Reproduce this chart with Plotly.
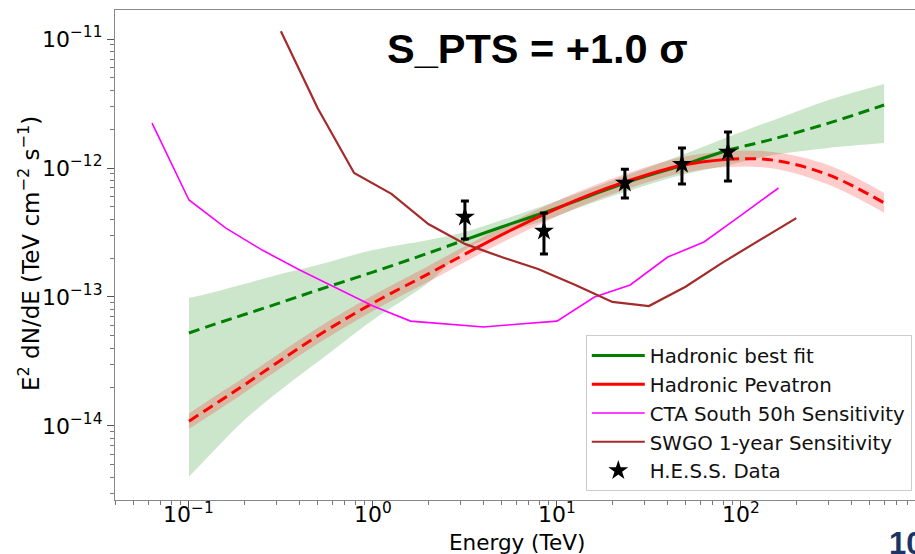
import math
import plotly.graph_objects as go

# ---------------- data ----------------
E_model = [0.1, 0.15, 0.2, 0.3, 0.5, 1.0, 2.0, 3.16, 5.0, 8.4, 15.0, 23.4, 47.7, 85.0, 150.0, 300.0, 600.0]

fit_center = [5.26e-14, 6.40e-14, 7.31e-14, 8.83e-14, 1.13e-13, 1.56e-13, 2.19e-13, 2.77e-13, 3.49e-13,
              4.48e-13, 6.07e-13, 7.65e-13, 1.05e-12, 1.38e-12, 1.68e-12, 2.23e-12, 3.08e-12]
fit_upper = [9.8e-14, 1.13e-13, 1.26e-13, 1.48e-13, 1.77e-13, 2.31e-13, 2.77e-13, 3.19e-13, 3.95e-13,
             5.07e-13, 6.87e-13, 8.67e-13, 1.26e-12, 1.74e-12, 2.35e-12, 3.37e-12, 4.48e-12]
fit_lower = [4.03e-15, 7.38e-15, 1.11e-14, 1.80e-14, 3.13e-14, 6.64e-14, 1.29e-13, 2.31e-13, 3.08e-13,
             3.88e-13, 5.26e-13, 6.52e-13, 8.83e-13, 1.05e-12, 1.26e-12, 1.43e-12, 1.56e-12]

pev_center = [1.09e-14, 1.59e-14, 2.08e-14, 3.08e-14, 4.99e-14, 8.97e-14, 1.51e-13, 2.15e-13, 3.03e-13,
              4.33e-13, 6.18e-13, 7.79e-13, 1.05e-12, 1.17e-12, 1.15e-12, 8.83e-13, 5.36e-13]
pev_upper = [1.25e-14, 1.83e-14, 2.39e-14, 3.54e-14, 5.74e-14, 1.03e-13, 1.74e-13, 2.47e-13, 3.48e-13,
             4.98e-13, 7.10e-13, 8.96e-13, 1.21e-12, 1.35e-12, 1.33e-12, 1.05e-12, 6.40e-13]
pev_lower = [9.5e-15, 1.38e-14, 1.81e-14, 2.68e-14, 4.34e-14, 7.8e-14, 1.31e-13, 1.87e-13, 2.63e-13,
             3.77e-13, 5.37e-13, 6.77e-13, 9.13e-13, 1.02e-12, 9.9e-13, 7.4e-13, 4.5e-13]

hess_E = [3.16, 8.5, 23.4, 47.8, 85.0]
hess_F = [4.17e-13, 3.25e-13, 7.65e-13, 1.07e-12, 1.33e-12]
hess_hi = [5.55e-13, 4.48e-13, 9.8e-13, 1.43e-12, 1.90e-12]
hess_lo = [2.82e-13, 2.15e-13, 5.85e-13, 7.52e-13, 7.93e-13]

cta_E = [0.063, 0.1, 0.158, 0.25, 0.4, 0.63, 1.0, 1.6, 2.5, 4.0, 6.3, 10.0, 16.0, 25.0, 40.0, 63.0, 100.0, 160.0]
cta_F = [2.23e-12, 5.65e-13, 3.43e-13, 2.31e-13, 1.62e-13, 1.17e-13, 8.5e-14, 6.5e-14, 6.18e-14, 5.85e-14,
         6.18e-14, 6.5e-14, 1.0e-13, 1.24e-13, 2.04e-13, 2.67e-13, 4.3e-13, 7.0e-13]

swgo_E = [0.316, 0.5, 0.79, 1.26, 2.0, 3.16, 5.0, 7.9, 12.6, 20.0, 31.6, 50.0, 79.0, 126.0, 200.0]
swgo_F = [1.15e-11, 2.92e-12, 9.15e-13, 6.3e-13, 3.68e-13, 2.58e-13, 2.04e-13, 1.65e-13, 1.24e-13,
          9.15e-14, 8.5e-14, 1.2e-13, 1.84e-13, 2.77e-13, 4.09e-13]

x_tickvals = [0.1, 1, 10, 100]
x_ticktext = ["10<sup>\u22121</sup>", "10<sup>0</sup>", "10<sup>1</sup>", "10<sup>2</sup>"]
y_tickvals = [1e-14, 1e-13, 1e-12, 1e-11]
y_ticktext = ["10<sup>\u221214</sup>", "10<sup>\u221213</sup>", "10<sup>\u221212</sup>", "10<sup>\u221211</sup>"]

title_text = "S_PTS = +1.0 \u03c3"

# ---------------- figure ----------------
FONT = "DejaVu Sans"
fig = go.Figure()

i_lo, i_hi = 7, 13  # solid part = data range

# bands
fig.add_trace(go.Scatter(x=E_model, y=fit_lower, mode="lines", line=dict(width=0, shape="spline"),
                         showlegend=False, hoverinfo="skip"))
fig.add_trace(go.Scatter(x=E_model, y=fit_upper, mode="lines", line=dict(width=0, shape="spline"),
                         fill="tonexty", fillcolor="rgba(0,128,0,0.2)", showlegend=False, hoverinfo="skip"))
fig.add_trace(go.Scatter(x=E_model, y=pev_lower, mode="lines", line=dict(width=0, shape="spline"),
                         showlegend=False, hoverinfo="skip"))
fig.add_trace(go.Scatter(x=E_model, y=pev_upper, mode="lines", line=dict(width=0, shape="spline"),
                         fill="tonexty", fillcolor="rgba(255,0,0,0.2)", showlegend=False, hoverinfo="skip"))

DASH = "11px,6px"
# best fit
fig.add_trace(go.Scatter(x=E_model[:i_lo + 1], y=fit_center[:i_lo + 1], mode="lines",
                         line=dict(color="green", width=3, dash=DASH, shape="spline"), showlegend=False))
fig.add_trace(go.Scatter(x=E_model[i_hi:], y=fit_center[i_hi:], mode="lines",
                         line=dict(color="green", width=3, dash=DASH, shape="spline"), showlegend=False))
fig.add_trace(go.Scatter(x=E_model[i_lo:i_hi + 1], y=fit_center[i_lo:i_hi + 1], mode="lines",
                         line=dict(color="green", width=3, shape="spline"), name="Hadronic best fit",
                         legendrank=1, legendgroup="a"))
# pevatron
fig.add_trace(go.Scatter(x=E_model[:i_lo + 1], y=pev_center[:i_lo + 1], mode="lines",
                         line=dict(color="red", width=3, dash=DASH, shape="spline"), showlegend=False))
fig.add_trace(go.Scatter(x=E_model[i_hi:], y=pev_center[i_hi:], mode="lines",
                         line=dict(color="red", width=3, dash=DASH, shape="spline"), showlegend=False))
fig.add_trace(go.Scatter(x=E_model[i_lo:i_hi + 1], y=pev_center[i_lo:i_hi + 1], mode="lines",
                         line=dict(color="red", width=3, shape="spline"), name="Hadronic Pevatron",
                         legendrank=2, legendgroup="b"))
# sensitivities
fig.add_trace(go.Scatter(x=cta_E, y=cta_F, mode="lines", line=dict(color="magenta", width=1.6),
                         name="CTA South 50h Sensitivity", legendrank=3, legendgroup="c"))
fig.add_trace(go.Scatter(x=swgo_E, y=swgo_F, mode="lines", line=dict(color="#a52a2a", width=2.2),
                         name="SWGO 1-year Sensitivity", legendrank=4, legendgroup="d"))
# data
err_p = [h - f for h, f in zip(hess_hi, hess_F)]
err_m = [f - l for f, l in zip(hess_F, hess_lo)]
fig.add_trace(go.Scatter(x=hess_E, y=hess_F, mode="markers",
                         marker=dict(symbol="star", size=15, color="black"),
                         error_y=dict(type="data", array=err_p, arrayminus=err_m, color="black",
                                      thickness=3, width=4),
                         name="H.E.S.S. Data", legendrank=5, legendgroup="e"))

x_minor = [m * 10 ** p for p in range(-2, 3) for m in range(2, 10)]
y_minor = [m * 10 ** p for p in range(-15, -10) for m in range(2, 10)]

axis_common = dict(type="log", showgrid=False, zeroline=False, showline=True, linecolor="#888888",
                   linewidth=1.3, ticks="outside", ticklen=7, tickwidth=1.2, tickcolor="#555555",
                   tickfont=dict(family=FONT, size=22, color="black"), tickmode="array")

fig.update_xaxes(**axis_common, range=[-1.402, 2.946], tickvals=x_tickvals, ticktext=x_ticktext,
                 mirror=True, showticklabels=False,
                 minor=dict(ticks="outside", ticklen=4, tickwidth=1, tickcolor="#777777", tickvals=x_minor))
fig.update_yaxes(**axis_common, range=[-14.574, -10.775], tickvals=y_tickvals, ticktext=y_ticktext,
                 minor=dict(ticks="outside", ticklen=4, tickwidth=1, tickcolor="#777777", tickvals=y_minor))

annotations = [
    dict(text=title_text, xref="paper", yref="paper", x=(537 - 115) / 800, y=(500 - 48) / 490,
         xanchor="center", yanchor="middle", showarrow=False,
         font=dict(family="Liberation Sans", size=41.5, color="black", weight="bold")),
    dict(text="Energy (TeV)", xref="paper", yref="paper", x=(517 - 115) / 800, y=(500 - 542) / 490,
         xanchor="center", yanchor="middle", showarrow=False,
         font=dict(family=FONT, size=21.5, color="black")),
    dict(text="E<sup>2</sup> dN/dE (TeV cm<sup>\u22122</sup> s<sup>\u22121</sup>)", xref="paper",
         yref="paper", x=(29 - 115) / 800, y=(500 - 254) / 490, xanchor="center", yanchor="middle",
         textangle=-90, showarrow=False, font=dict(family=FONT, size=23, color="black")),
    dict(text="10", xref="paper", yref="paper", x=(887 - 115) / 800, y=(500 - 543) / 490,
         xanchor="left", yanchor="middle", showarrow=False,
         font=dict(family="Liberation Sans", size=31, color="#1a3468", weight="bold")),
]
# x tick labels placed as text at the tick positions
for v, t in zip(x_tickvals, x_ticktext):
    annotations.append(dict(text=t, xref="x", yref="paper", x=math.log10(v), y=(500 - 513) / 490,
                            xanchor="center", yanchor="middle", showarrow=False,
                            font=dict(family=FONT, size=22, color="black")))

fig.update_layout(
    width=915, height=554,
    margin=dict(l=115, r=0, t=10, b=54),
    plot_bgcolor="white", paper_bgcolor="white",
    font=dict(family=FONT, color="black"),
    legend=dict(x=0.996, y=0.018, xanchor="right", yanchor="bottom",
                bgcolor="rgba(255,255,255,0.85)", bordercolor="#cccccc", borderwidth=1,
                font=dict(family=FONT, size=19.8, color="#111111"), tracegroupgap=0,
                itemwidth=53),
    annotations=annotations,
)

fig.write_html("out.html")
